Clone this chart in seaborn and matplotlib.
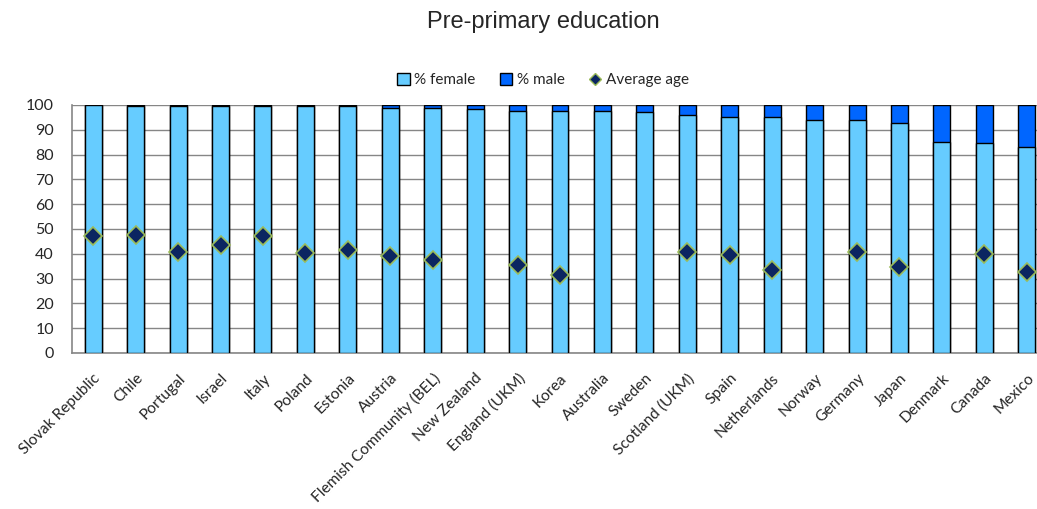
import numpy as np
import pandas as pd
import matplotlib
matplotlib.use("Agg")
import matplotlib.pyplot as plt
from matplotlib.patches import Patch
from matplotlib.lines import Line2D
from matplotlib.ticker import FixedLocator
import seaborn as sns

countries = ["Slovak Republic", "Chile", "Portugal", "Israel", "Italy", "Poland",
             "Estonia", "Austria", "Flemish Community (BEL)", "New Zealand",
             "England (UKM)", "Korea", "Australia", "Sweden", "Scotland (UKM)",
             "Spain", "Netherlands", "Norway", "Germany", "Japan", "Denmark",
             "Canada", "Mexico"]
pct_female = [99.9, 99.6, 99.6, 99.6, 99.6, 99.6, 99.6, 98.8, 98.8, 98.3,
              97.7, 97.7, 97.7, 97.2, 96.1, 95.0, 95.0, 94.0, 94.0, 92.9,
              85.2, 84.7, 83.1]
pct_male = [100 - f for f in pct_female]
avg_age = [47.0, 47.6, 40.7, 43.6, 47.0, 40.4, 41.6, 39.3, 37.6, np.nan,
           35.6, 31.5, np.nan, np.nan, 40.7, 39.6, 33.5, np.nan, 40.7, 34.6,
           np.nan, 39.9, 32.6]
yticks = list(range(0, 101, 10))

FEMALE = "#66CCFF"
MALE = "#0066FF"
NAVY = "#0B2561"
EDGE_Y = "#9BBB59"
GRID = "#868686"

sns.set_style("white")
plt.rcParams["font.family"] = ["Lato", "DejaVu Sans"]

df = pd.DataFrame({"country": countries, "female": pct_female, "male": pct_male,
                   "age": avg_age})
df["total"] = df["female"] + df["male"]

fig = plt.figure(figsize=(10.37, 5.09), dpi=100)
ax = fig.add_axes([72 / 1037, 156 / 509, 976 / 1037, 248 / 509])

sns.barplot(data=df, x="country", y="total", order=countries, color=MALE,
            saturation=1, width=0.4, edgecolor="black", linewidth=1.0, ax=ax,
            zorder=2)
sns.barplot(data=df, x="country", y="female", order=countries, color=FEMALE,
            saturation=1, width=0.4, edgecolor="black", linewidth=1.0, ax=ax,
            zorder=3)
sns.pointplot(data=df.dropna(subset=["age"]), x="country", y="age", order=countries,
              linestyle="none", marker="D", color=NAVY, markersize=9,
              markeredgecolor=EDGE_Y, markeredgewidth=1.2, errorbar=None, ax=ax,
              zorder=4)

ax.set_xlim(-0.5, len(countries) - 0.5)
ax.set_ylim(0, 100)
ax.set_yticks(yticks)
ax.set_yticklabels([str(t) for t in yticks], fontsize=11.5)
ax.set_xlabel("")
ax.set_ylabel("")
ax.yaxis.grid(True, color=GRID, linewidth=1.0, zorder=0)
ax.set_axisbelow(True)
for s in ["top", "right"]:
    ax.spines[s].set_visible(False)
for s in ["left", "bottom"]:
    ax.spines[s].set_color(GRID)
    ax.spines[s].set_linewidth(1.2)

ax.set_xticks(range(len(countries)))
ax.set_xticklabels(countries, rotation=45, ha="right", rotation_mode="anchor",
                   fontsize=11.2)
ax.xaxis.set_minor_locator(FixedLocator(np.arange(-0.5, len(countries), 1.0)))
ax.tick_params(axis="x", which="major", length=0, pad=13)
ax.tick_params(axis="x", which="minor", length=5, color=GRID, width=1, direction="out")
ax.tick_params(axis="y", length=5, color=GRID, width=1, direction="out", pad=8)

fig.text(543 / 1037, 1 - 22 / 509, "Pre-primary education", ha="center", va="center",
         fontsize=17, family=["Liberation Sans", "DejaVu Sans"])

handles = [Patch(facecolor=FEMALE, edgecolor="black", linewidth=1.0, label="% female"),
           Patch(facecolor=MALE, edgecolor="black", linewidth=1.0, label="% male"),
           Line2D([], [], linestyle="none", marker="D", markersize=6,
                  markerfacecolor=NAVY, markeredgecolor=EDGE_Y, markeredgewidth=1,
                  label="Average age")]
fig.legend(handles=handles, loc="center", bbox_to_anchor=(543 / 1037, 1 - 80 / 509),
           ncol=3, frameon=False, fontsize=11, handlelength=0.8, handleheight=0.8,
           handletextpad=0.3, columnspacing=1.6)

fig.savefig("out.png", dpi=100)
